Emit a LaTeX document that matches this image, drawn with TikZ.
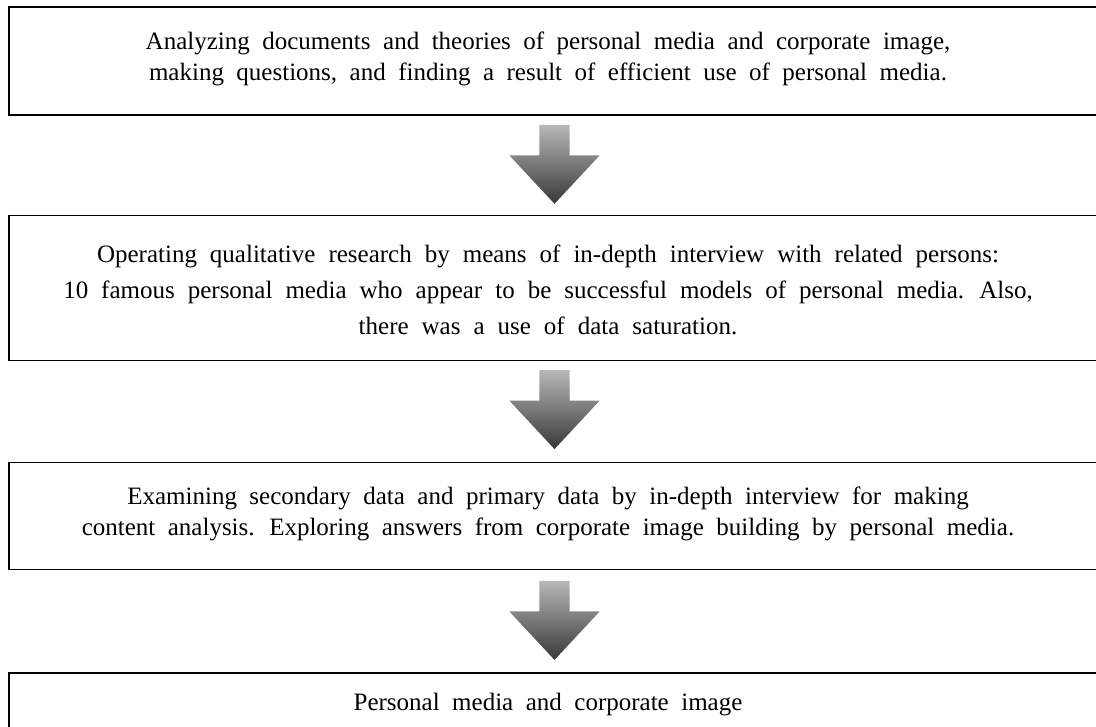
\documentclass[tikz,border=0pt]{standalone}
\usepackage{fontspec}
\setmainfont{Liberation Serif}
\usetikzlibrary{positioning,calc,shapes.arrows}

\protected\def\stagefont{\fontsize{25}{31}\selectfont\spaceskip=12.5pt plus 0pt\relax}
\protected\def\stagefontwide{\fontsize{25}{36}\selectfont\spaceskip=13pt plus 0pt\relax}

\tikzset{
  stage/.style={draw=black, line width=1.3pt, minimum width=1100pt, inner sep=0pt},
  stagetext/.style={align=center, inner sep=0pt, font=\stagefont},
  flowarrow/.style={single arrow, shape border rotate=270, draw=none, inner xsep=15pt, inner ysep=0pt,
    minimum height=79pt, single arrow head extend=30pt, single arrow tip angle=86,
    top color=black!28, bottom color=black!78}
}

\begin{document}
\begin{tikzpicture}[x=1pt, y=-1pt]
  \useasboundingbox (0,0) rectangle (1096,727);

  % stages
  \node[stage, minimum height=108pt] (box1) at (559,61) {};
  \node[stage, minimum height=145pt, below=99pt of box1] (box2) {};
  \node[stage, minimum height=107pt, below=101pt of box2] (box3) {};
  \node[stage, minimum height=64pt, below=102pt of box3] (box4) {};

  % texts
  \node[stagetext] (text1) at ([xshift=-11pt, yshift=2pt]box1.center)
    {Analyzing documents and theories of personal media and corporate image,\\
     making questions, and finding a result of efficient use of personal media.};
  \node[stagetext, font=\stagefontwide] (text2) at ([xshift=-11pt, yshift=-2pt]box2.center)
    {Operating qualitative research by means of in-depth interview with related persons:\\
     10 famous personal media who appear to be successful models of personal media. Also,\\
     there was a use of data saturation.};
  \node[stagetext] (text3) at ([xshift=-11pt, yshift=2pt]box3.center)
    {Examining secondary data and primary data by in-depth interview for making\\
     content analysis. Exploring answers from corporate image building by personal media.};
  \node[stagetext] (text4) at ([xshift=-11pt]box4.center)
    {Personal media and corporate image};

  % arrows
  \node[flowarrow] (arr1) at ([xshift=-4.5pt, yshift=9pt]$(box1.south)!0.5!(box2.north)$) {};
  \node[flowarrow] (arr2) at ([xshift=-4.5pt, yshift=10pt]$(box2.south)!0.5!(box3.north)$) {};
  \node[flowarrow] (arr3) at ([xshift=-4.5pt, yshift=9pt]$(box3.south)!0.5!(box4.north)$) {};
\end{tikzpicture}
\end{document}
